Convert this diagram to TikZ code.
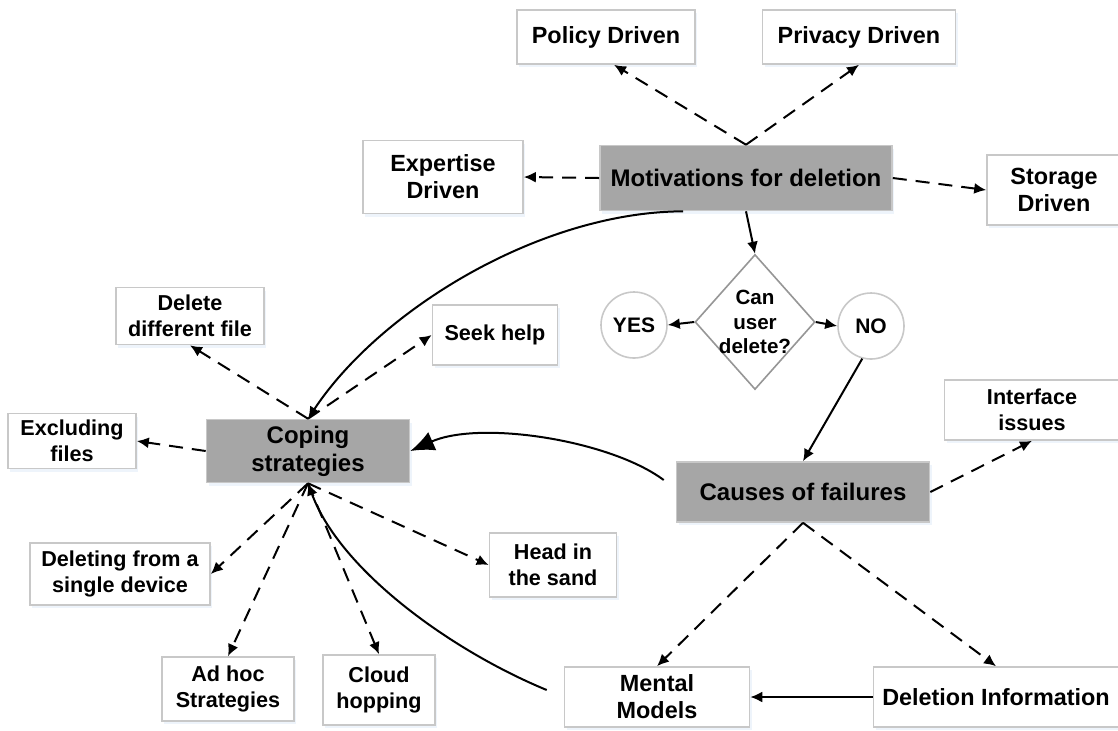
\documentclass[tikz,border=0pt]{standalone}
\usepackage{fontspec}
\setmainfont{Liberation Sans}
\usetikzlibrary{arrows.meta,shapes.geometric,shadows,calc}
\definecolor{boxline}{RGB}{200, 200, 200}
\definecolor{corefill}{RGB}{166, 166, 166}
\definecolor{glow}{RGB}{222, 233, 248}
\definecolor{diamline}{RGB}{150, 150, 150}

\begin{document}
\begin{tikzpicture}[x=0.5pt, y=-0.5pt,
    leaf/.style={draw=boxline, fill=white, line width=0.8pt, align=center, inner sep=2pt,
                 font=\fontsize{10.8}{13}\selectfont\bfseries,
                 drop shadow={fill=glow, shadow xshift=1pt, shadow yshift=-1.5pt}},
    bigleaf/.style={leaf, font=\fontsize{11.7}{13.5}\selectfont\bfseries},
    core/.style={leaf, fill=corefill, font=\fontsize{12}{14}\selectfont\bfseries},
    yesno/.style={circle, draw=boxline, fill=white, line width=0.8pt, minimum size=33pt, inner sep=0pt,
                 font=\fontsize{10.5}{12}\selectfont\bfseries},
    decide/.style={diamond, draw=diamline, fill=white, line width=0.8pt, minimum width=60pt,
                 minimum height=67.5pt, inner sep=0pt},
    solidarrow/.style={-{Latex[length=6pt,width=5.5pt]}, line width=1pt},
    dashedarrow/.style={solidarrow, dash pattern=on 7pt off 4.5pt},
    bigarrow/.style={-{Latex[length=12pt,width=10pt]}, line width=1pt}]
            \useasboundingbox (0, 0) rectangle (1118, 730);
            \node[bigleaf, minimum width=89pt,    minimum height=27pt]   (policy)    at ( 606,  37) {Policy Driven};
            \node[bigleaf, minimum width=96.5pt,  minimum height=27pt]   (privacy)   at ( 859,  37) {Privacy Driven};
            \node[bigleaf, minimum width=80pt,    minimum height=36.5pt] (expertise) at ( 443, 177) {Expertise\\Driven};
            \node[core,    minimum width=146pt,   minimum height=32.5pt] (motiv)     at ( 746, 178) {Motivations for deletion};
            \node[bigleaf, minimum width=67pt,    minimum height=35pt]   (storage)   at (1054, 190) {Storage\\Driven};
            \node[decide, label={[align=center, font=\fontsize{10.3}{12.2}\selectfont\bfseries]center:Can\\user\\delete?}]
                                                                         (candel)    at ( 755, 322) {};
            \node[yesno]                                                 (yes)       at ( 634, 325) {YES};
            \node[yesno]                                                 (no)        at ( 871, 326) {NO};
            \node[leaf,    minimum width=87.5pt,  minimum height=30pt]   (iface)     at (1032, 410) {Interface\\issues};
            \node[core,    minimum width=126.5pt, minimum height=30pt]   (causes)    at ( 803, 492) {Causes of failures};
            \node[bigleaf, minimum width=92.5pt,  minimum height=30pt]   (mental)    at ( 657, 697) {Mental\\Models};
            \node[bigleaf, minimum width=122.5pt, minimum height=30pt]   (delinfo)   at ( 996, 697) {Deletion Information};
            \node[core,    minimum width=101.5pt, minimum height=31.5pt] (coping)    at ( 308, 451) {Coping\\strategies};
            \node[leaf,    minimum width=74pt,    minimum height=28.5pt] (diff)      at ( 190, 316) {Delete\\different file};
            \node[leaf,    minimum width=62.5pt,  minimum height=30pt]   (seek)      at ( 495, 335) {Seek help};
            \node[leaf,    minimum width=64pt,    minimum height=27.5pt] (excl)      at (  72, 441) {Excluding\\files};
            \node[leaf,    minimum width=90pt,    minimum height=31pt]   (device)    at ( 120, 574) {Deleting from a\\single device};
            \node[leaf,    minimum width=63.5pt,  minimum height=32pt]   (sand)      at ( 553, 565) {Head in\\the sand};
            \node[leaf,    minimum width=66pt,    minimum height=32pt]   (adhoc)     at ( 228, 689) {Ad hoc\\Strategies};
            \node[leaf,    minimum width=56pt,    minimum height=35pt]   (cloud)     at ( 379, 690) {Cloud\\hopping};

            \draw[dashedarrow] (motiv.north)  -- ([xshift=4pt]policy.south);
            \draw[dashedarrow] (motiv.north)  -- (privacy.south);
            \draw[dashedarrow] (motiv.west)   -- (expertise.east);
            \draw[dashedarrow] (motiv.east)   -- (storage.west);
            \draw[solidarrow]  (motiv.south)  -- (candel.north);
            \draw[solidarrow]  (candel.west)  -- (yes.east);
            \draw[solidarrow]  (candel.east)  -- (no.west);
            \draw[solidarrow]  (no.-105)      -- (causes.north);
            \draw[solidarrow]  ([xshift=-31.5pt]motiv.south) .. controls (540, 212) and (380, 310) .. (coping.north);
            \draw[bigarrow]    ($(causes.west)+(-12,-12)$)   .. controls (610, 440) and (480, 420) .. (coping.east);
            \draw[solidarrow]  ($(mental.west)+(-17,-7)$)    .. controls (450, 650) and (340, 570) .. (coping.south);
            \draw[dashedarrow] (causes.south) -- (mental.north);
            \draw[dashedarrow] (causes.south) -- (delinfo.north);
            \draw[dashedarrow] (causes.east)  -- (iface.south);
            \draw[solidarrow]  (delinfo.west) -- (mental.east);
            \draw[dashedarrow] (coping.north) -- (diff.south);
            \draw[dashedarrow] (coping.north) -- (seek.west);
            \draw[dashedarrow] (coping.west)  -- (excl.east);
            \draw[dashedarrow] (coping.south) -- (device.east);
            \draw[dashedarrow] (coping.south) -- (adhoc.north);
            \draw[dashedarrow] (coping.south) -- (cloud.north);
            \draw[dashedarrow] (coping.south) -- (sand.west);
        \end{tikzpicture}
\end{document}
